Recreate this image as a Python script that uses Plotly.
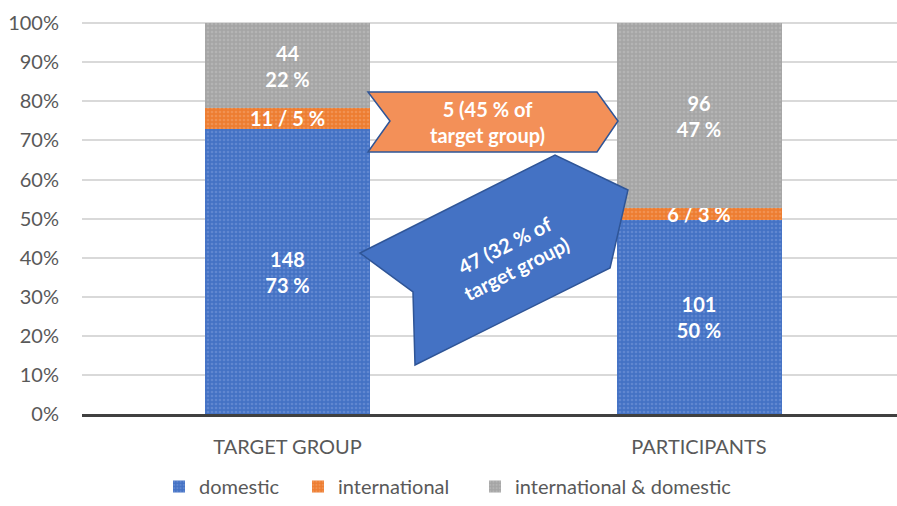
import plotly.graph_objects as go

categories = ["TARGET GROUP", "PARTICIPANTS"]
series_names = ["domestic", "international", "international & domestic"]
counts = {
    "domestic": [148, 101],
    "international": [11, 6],
    "international & domestic": [44, 96],
}
percents = {
    "domestic": [73, 50],
    "international": [5, 3],
    "international & domestic": [22, 47],
}
colors = {
    "domestic": "#4472C4",
    "international": "#ED7D31",
    "international & domestic": "#A5A5A5",
}
dots = {
    "domestic": "#7B9CDB",
    "international": "#F6A873",
    "international & domestic": "#C4C4C4",
}
orange_flow_text = "5 (45 % of<br>target group)"
blue_flow_text = "47 (32 % of<br>target group)"

FONT = "Lato"
W, H = 897, 506
L, R, T, B = 82, 0, 22, 92
PW, PH = W - L - R, H - T - B


def px(x, y):
    return (x - L) / PW, (H - B - y) / PH


def path(points):
    pts = [px(x, y) for x, y in points]
    return "M " + " L ".join(f"{a:.4f},{b:.4f}" for a, b in pts) + " Z"


legend_ids = ["legend", "legend2", "legend3"]
legend_text_x = [199, 338, 515]

fig = go.Figure()
for name, lid in zip(series_names, legend_ids):
    if name == "international":
        labels = [f"{c} / {p} %" for c, p in zip(counts[name], percents[name])]
    else:
        labels = [f"{c}<br>{p} %" for c, p in zip(counts[name], percents[name])]
    fig.add_trace(go.Bar(
        name=name,
        x=categories,
        y=counts[name],
        text=labels,
        textposition="inside",
        insidetextanchor="middle",
        constraintext="none",
        textfont=dict(family=FONT, size=20, color="white", weight="bold"),
        marker=dict(
            color=colors[name],
            line=dict(width=0),
            pattern=dict(shape=".", fgcolor=dots[name], size=4, solidity=0.35),
        ),
        legend=lid,
        hoverinfo="skip",
    ))

orange_pts = [(368, 92), (597, 92), (618, 121), (597, 152), (368, 152), (390, 121)]
blue_pts = [(360, 253), (555, 155), (628, 190), (610, 268), (415, 365), (413, 292)]

shapes = [
    dict(type="path", xref="paper", yref="paper", path=path(orange_pts),
         fillcolor="#F39058", line=dict(color="#2F5597", width=1.5), layer="above"),
    dict(type="path", xref="paper", yref="paper", path=path(blue_pts),
         fillcolor="#4472C4", line=dict(color="#2F5597", width=1.5), layer="above"),
]

ox, oy = px(487, 122)
bx, by = px(510, 257)
annotations = [
    dict(xref="paper", yref="paper", x=ox, y=oy, text=orange_flow_text, showarrow=False,
         font=dict(family=FONT, size=20, color="white", weight="bold"),
         xanchor="center", yanchor="middle"),
    dict(xref="paper", yref="paper", x=bx, y=by, text=blue_flow_text, showarrow=False,
         textangle=-27,
         font=dict(family=FONT, size=20, color="white", weight="bold"),
         xanchor="center", yanchor="middle"),
]

legend_style = dict(orientation="h", xref="paper", yref="container",
                    y=-5 / H, xanchor="left", yanchor="bottom",
                    font=dict(family=FONT, size=20, color="#595959"))
legends = {}
for lid, tx in zip(legend_ids, legend_text_x):
    legends[lid] = dict(legend_style, x=px(tx - 40, 0)[0])

# category positions: bar centres at 287.5 px and 699 px, plot spans 82..897 px
unit = 699 - 287.5
xrange = [-(287.5 - L) / unit, 1 + (W - R - 699) / unit]

fig.update_layout(
    width=W, height=H,
    margin=dict(l=L, r=R, t=T, b=B, autoexpand=False),
    barmode="stack",
    barnorm="percent",
    bargap=1 - 165 / unit,
    plot_bgcolor="white",
    paper_bgcolor="white",
    font=dict(family=FONT, color="#595959"),
    shapes=shapes,
    annotations=annotations,
    showlegend=True,
    xaxis=dict(range=xrange, showline=True, linecolor="#404040", linewidth=3, ticks="",
               tickfont=dict(family=FONT, size=20, color="#595959"),
               ticklabelstandoff=13),
    yaxis=dict(range=[0, 100.3], dtick=10, ticksuffix="%", showgrid=True,
               gridcolor="#D9D9D9", gridwidth=1.5, zeroline=False,
               tickfont=dict(family=FONT, size=20, color="#595959"),
               ticklabelstandoff=22),
    **legends,
)

fig.write_html("out.html")
